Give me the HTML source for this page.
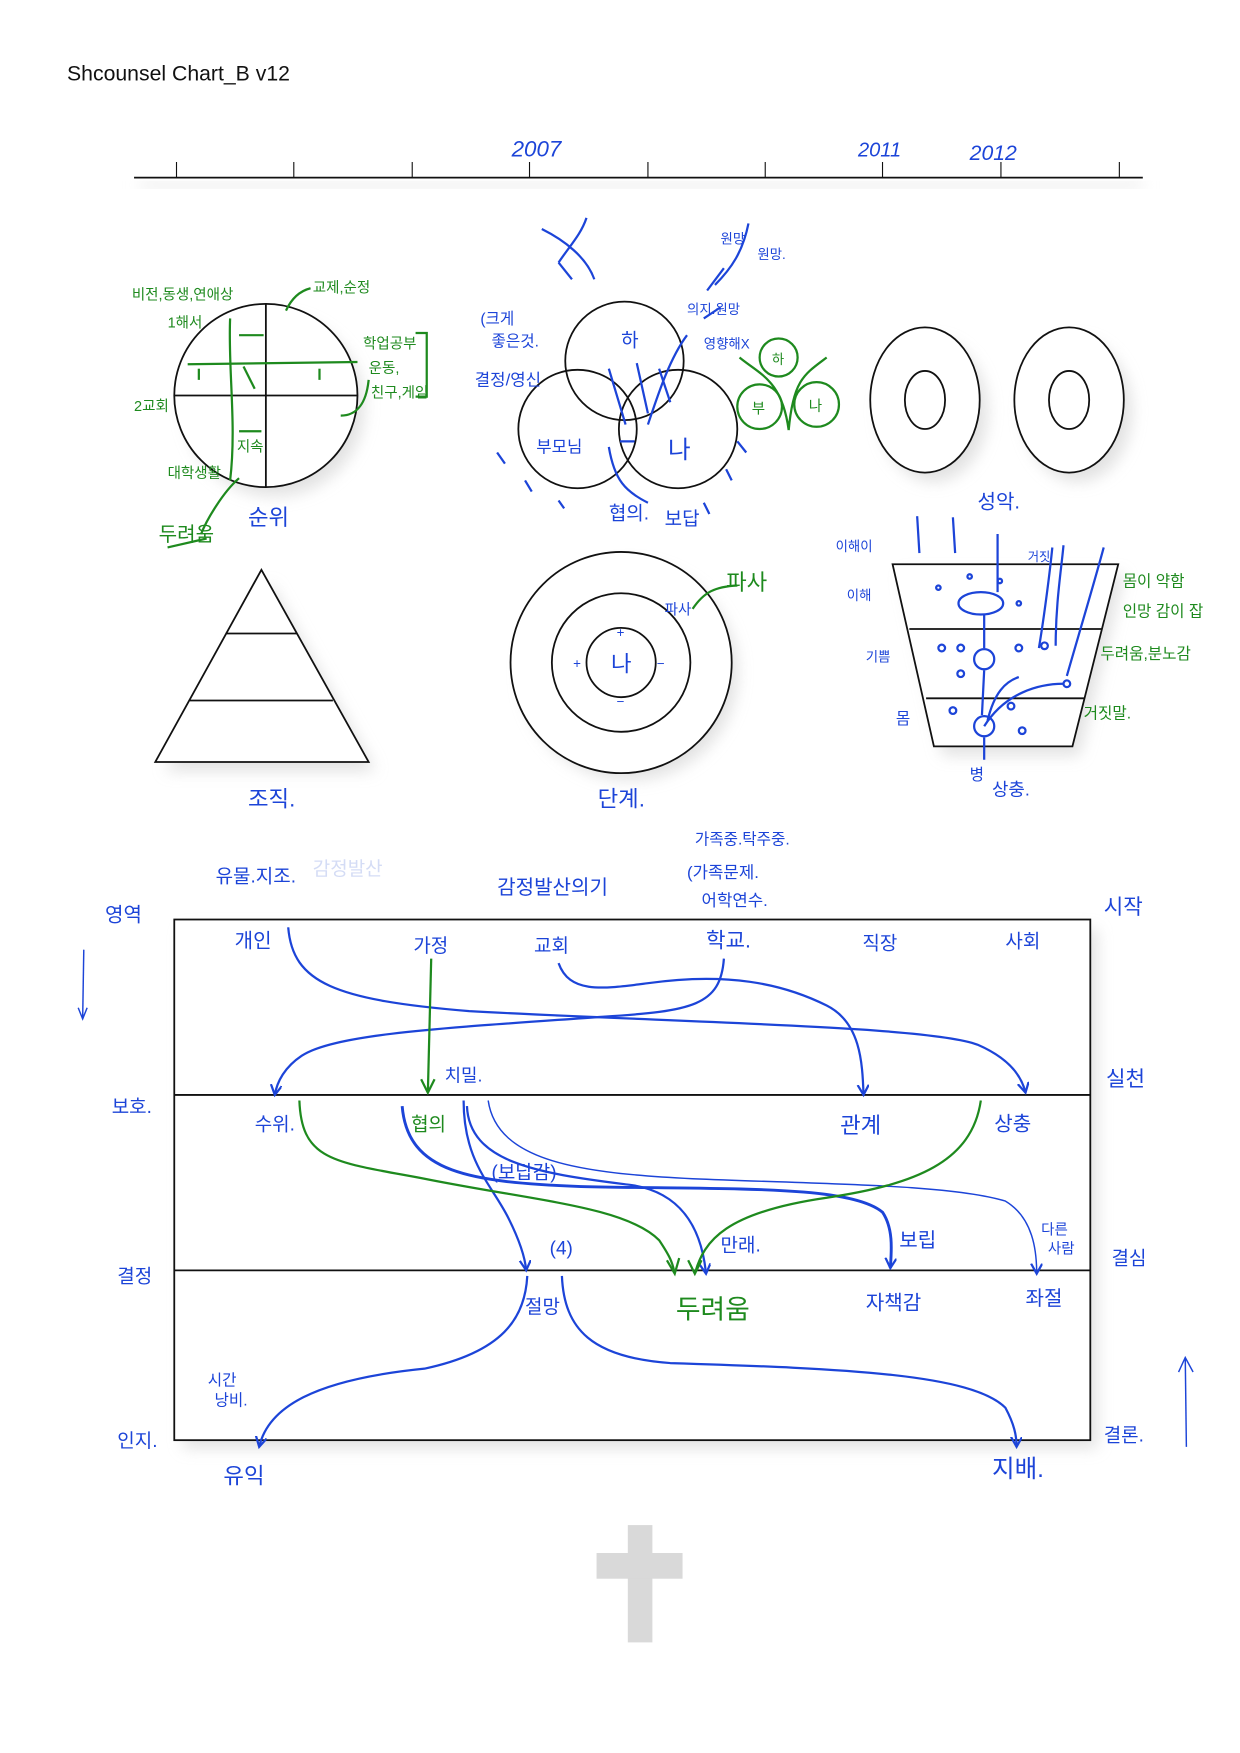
<!DOCTYPE html>
<html><head><meta charset="utf-8">
<style>
html,body{margin:0;padding:0;background:#fff;}
svg{display:block;}
text{font-family:"Liberation Sans","Noto Sans CJK KR",sans-serif;}
.b{fill:#1c44d8;}
.g{fill:#1e8a1e;}
.bl{stroke:#1c44d8;fill:none;stroke-width:2;}
.gl{stroke:#1e8a1e;fill:none;stroke-width:2;}
.k{stroke:#111;fill:none;stroke-width:1.6;}
.w{stroke:#111;fill:#fff;stroke-width:1.6;}
</style></head>
<body>
<svg width="1240" height="1753" viewBox="0 0 1110 1569" preserveAspectRatio="none" xmlns="http://www.w3.org/2000/svg">
<defs>
<filter id="sh" x="-20%" y="-20%" width="140%" height="140%"><feGaussianBlur stdDeviation="7"/></filter>
<marker id="ab" markerWidth="12" markerHeight="12" refX="9" refY="5" orient="auto" markerUnits="userSpaceOnUse"><path d="M0,0 L9,5 L0,10" fill="none" stroke="#1c44d8" stroke-width="2"/></marker>
</defs>
<text x="60" y="72" font-size="19" fill="#111">Shcounsel Chart_B v12</text>
<!-- timeline -->
<rect x="125" y="163" width="898" height="5" fill="#e4e4e4" filter="url(#sh)"/>
<line x1="120" y1="159" x2="1023" y2="159" stroke="#111" stroke-width="1.5"/>
<g stroke="#111" stroke-width="1">
<line x1="158" y1="145" x2="158" y2="159"/><line x1="263" y1="145" x2="263" y2="159"/><line x1="369" y1="145" x2="369" y2="159"/><line x1="474" y1="145" x2="474" y2="159"/><line x1="580" y1="145" x2="580" y2="159"/><line x1="685" y1="145" x2="685" y2="159"/><line x1="790" y1="145" x2="790" y2="159"/><line x1="896" y1="145" x2="896" y2="159"/><line x1="1002" y1="145" x2="1002" y2="159"/>
</g>
<text x="458" y="140" font-size="20" class="b" font-style="italic">2007</text>
<text x="768" y="140" font-size="18" class="b" font-style="italic">2011</text>
<text x="868" y="143" font-size="19" class="b" font-style="italic">2012</text>

<!-- shadows -->
<g fill="#d8d8d8" filter="url(#sh)" opacity="0.75">
<circle cx="246" cy="364" r="80"/>
<ellipse cx="836" cy="368" rx="48" ry="63"/><ellipse cx="965" cy="368" rx="48" ry="63"/>
<circle cx="564" cy="602" r="96"/>
<polygon points="242,522 336,690 148,690"/>
<polygon points="808,514 1006,514 966,676 844,676"/>
<rect x="164" y="832" width="818" height="464"/>
</g>

<!-- circle 1 -->
<circle cx="238" cy="354" r="82" class="w"/>
<line x1="238" y1="272" x2="238" y2="436" class="k"/>
<line x1="156" y1="354" x2="320" y2="354" class="k"/>
<g class="gl">
<path d="M168,326 L320,324"/><path d="M206,285 C204,330 212,380 206,430"/>
<path d="M236,300 L214,300"/><path d="M178,340 L178,330"/><path d="M286,340 L286,330"/><path d="M228,348 L218,328"/>
<path d="M234,386 L214,386"/><path d="M214,428 C200,440 185,465 180,478"/>
<path d="M256,278 C262,265 270,260 278,258"/><path d="M330,340 C328,360 320,372 305,372"/>
<path d="M372,298 L382,298 L382,355 L372,355"/><path d="M150,490 L185,482"/>
</g>
<text x="118" y="268" font-size="13" class="g">비전,동생,연애상</text>
<text x="280" y="262" font-size="13" class="g">교제,순정</text>
<text x="150" y="293" font-size="13" class="g">1해서</text>
<text x="325" y="312" font-size="13" class="g">학업공부</text>
<text x="330" y="334" font-size="13" class="g">운동,</text>
<text x="332" y="356" font-size="13" class="g">친구,게임</text>
<text x="120" y="368" font-size="13" class="g">2교회</text>
<text x="150" y="428" font-size="13" class="g">대학생활</text>
<text x="212" y="404" font-size="13" class="g">지속</text>
<text x="142" y="484" font-size="18" class="g">두려움</text>
<text x="222" y="470" font-size="20" class="b">순위</text>

<!-- triangle -->
<polygon points="234,510 330,682 139,682" class="w"/>
<line x1="202" y1="567" x2="266" y2="567" class="k"/>
<line x1="170" y1="627" x2="298" y2="627" class="k"/>
<text x="222" y="722" font-size="20" class="b">조직.</text>

<!-- venn -->
<g class="k">
<circle cx="559" cy="323" r="53"/><circle cx="517" cy="384" r="53"/><circle cx="607" cy="384" r="53"/>
</g>
<g class="bl">
<path d="M500,235 C510,220 520,210 525,195 M485,205 C505,215 525,230 532,250 M500,235 L512,250"/>
<path d="M640,255 C655,240 665,225 670,200 M633,260 L648,240"/>
<path d="M545,330 L560,380 M570,325 L580,370 M590,330 L600,360 M555,395 L568,395"/>
<path d="M615,300 C600,320 590,350 580,380 M645,275 L630,285"/>
<path d="M445,405 L452,415 M470,430 L476,440 M500,448 L505,455 M660,395 L668,405 M650,420 L655,430 M630,450 L635,460"/>
<path d="M545,400 C550,430 560,440 580,450"/>
</g>
<text x="556" y="310" font-size="17" class="b">하</text>
<text x="480" y="405" font-size="15" class="b">부모님</text>
<text x="598" y="410" font-size="22" class="b">나</text>
<text x="430" y="290" font-size="14" class="b">(크게</text>
<text x="440" y="310" font-size="14" class="b">좋은것.</text>
<text x="425" y="345" font-size="15" class="b">결정/영신</text>
<text x="615" y="281" font-size="12" class="b">의지.원망</text>
<text x="630" y="312" font-size="12" class="b">영향해X</text>
<text x="645" y="218" font-size="12" class="b">원망</text>
<text x="678" y="232" font-size="12" class="b">원망.</text>
<text x="545" y="465" font-size="17" class="b">협의.</text>
<text x="595" y="470" font-size="17" class="b">보답</text>
<g class="gl"><circle cx="697" cy="320" r="17"/><circle cx="680" cy="364" r="20"/><circle cx="731" cy="362" r="20"/>
<path d="M662,320 C680,335 700,340 706,385 M740,320 C720,335 710,340 706,385"/></g>
<text x="691" y="326" font-size="12" class="g">하</text><text x="673" y="370" font-size="13" class="g">부</text><text x="724" y="368" font-size="13" class="g">나</text>

<!-- two donuts -->
<ellipse cx="828" cy="358" rx="49" ry="65" class="w"/><ellipse cx="828" cy="358" rx="18" ry="26" class="k"/>
<ellipse cx="957" cy="358" rx="49" ry="65" class="w"/><ellipse cx="957" cy="358" rx="18" ry="26" class="k"/>

<!-- concentric -->
<circle cx="556" cy="593" r="99" class="w"/><circle cx="556" cy="593" r="62" class="k"/><circle cx="556" cy="593" r="31" class="k"/>
<text x="547" y="601" font-size="20" class="b">나</text>
<text x="513" y="598" font-size="12" class="b">+</text><text x="552" y="570" font-size="12" class="b">+</text>
<text x="588" y="598" font-size="12" class="b">−</text><text x="552" y="632" font-size="12" class="b">−</text>
<path d="M620,545 C630,530 640,525 660,524" class="gl"/>
<text x="595" y="550" font-size="13" class="b">파사</text>
<text x="650" y="528" font-size="20" class="g">파사</text>
<text x="535" y="722" font-size="20" class="b">단계.</text>

<!-- trapezoid -->
<polygon points="799,505 1001,505 960,668 836,668" class="w"/>
<line x1="814" y1="563" x2="986" y2="563" class="k"/>
<line x1="829" y1="625" x2="971" y2="625" class="k"/>
<g class="bl" stroke-width="1.5">
<circle cx="840" cy="526" r="2"/><circle cx="868" cy="516" r="2"/><circle cx="881" cy="590" r="9"/><circle cx="881" cy="650" r="9"/>
<ellipse cx="878" cy="540" rx="20" ry="10"/>
<circle cx="843" cy="580" r="3"/><circle cx="860" cy="580" r="3"/><circle cx="912" cy="580" r="3"/><circle cx="935" cy="578" r="3"/><circle cx="955" cy="612" r="3"/>
<circle cx="860" cy="603" r="3"/><circle cx="853" cy="636" r="3"/><circle cx="915" cy="654" r="3"/><circle cx="905" cy="632" r="3"/><circle cx="895" cy="520" r="2"/><circle cx="912" cy="540" r="2"/>
<path d="M893,478 L893,530 M853,463 L855,495 M821,462 L823,495 M881,550 L881,580 M881,600 L879,640 M881,660 L881,680"/>
<path d="M881,650 C900,620 930,612 952,612 M884,645 C890,620 900,610 912,606 M945,578 C945,540 950,510 952,488 M930,580 C935,550 940,510 942,490 M955,605 C965,570 980,520 988,490"/>
</g>
<text x="748" y="493" font-size="12" class="b">이해이</text>
<text x="758" y="537" font-size="12" class="b">이해</text>
<text x="775" y="592" font-size="12" class="b">기쁨</text>
<text x="802" y="648" font-size="14" class="b">몸</text>
<text x="875" y="455" font-size="18" class="b">성악.</text>
<text x="920" y="502" font-size="11" class="b">거짓</text>
<text x="1005" y="525" font-size="14" class="g">몸이 약함</text>
<text x="1005" y="552" font-size="14" class="g">인망 감이 잡</text>
<text x="985" y="590" font-size="14" class="g">두려움,분노감</text>
<text x="970" y="643" font-size="14" class="g">거짓말.</text>
<text x="868" y="698" font-size="14" class="b">병</text><text x="888" y="712" font-size="16" class="b">상충.</text>

<!-- bottom chart -->
<rect x="156" y="823" width="820" height="466" class="w"/>
<line x1="156" y1="980" x2="976" y2="980" class="k"/>
<line x1="156" y1="1137" x2="976" y2="1137" class="k"/>
<g class="bl">
<path d="M258,830 C262,880 300,895 420,905 C600,915 830,918 875,935 C905,948 915,965 918,978" marker-end="url(#ab)"/>
<path d="M648,858 C645,900 620,905 540,910 C400,920 300,925 270,945 C255,955 248,968 246,980" marker-end="url(#ab)"/>
<path d="M500,862 C510,890 540,885 580,880 C650,870 700,880 740,900 C770,915 772,950 773,980" marker-end="url(#ab)"/>
<path d="M415,985 C415,1040 440,1060 455,1090 C465,1110 470,1125 471,1137" marker-end="url(#ab)"/>
<path d="M360,990 C365,1050 420,1058 520,1062 C650,1065 760,1060 790,1085 C800,1100 798,1120 797,1135" marker-end="url(#ab)" stroke-width="2.6"/>
<path d="M418,990 C420,1040 480,1050 560,1060 C610,1065 628,1100 632,1140" marker-end="url(#ab)"/>
<path d="M437,985 C445,1040 520,1050 620,1055 C740,1060 850,1060 900,1075 C925,1090 928,1120 928,1140" marker-end="url(#ab)" stroke-width="1.3"/>
<path d="M472,1142 C470,1180 450,1210 380,1225 C280,1235 240,1260 232,1295" marker-end="url(#ab)"/>
<path d="M503,1142 C505,1190 530,1215 600,1220 C760,1225 870,1230 900,1260 C908,1275 910,1285 910,1295" marker-end="url(#ab)"/>
<path d="M75,850 L74,912" stroke-width="1.3"/><path d="M70,902 L74,912 L78,902" stroke-width="1.3"/>
<path d="M1062,1295 L1061,1215" stroke-width="1.3"/><path d="M1055,1228 L1061,1215 L1068,1228" stroke-width="1.3"/>
</g>
<g class="gl">
<path d="M386,858 L383,978"/><path d="M377,966 L383,978 L389,966"/>
<path d="M268,985 C270,1040 300,1040 380,1055 C480,1075 560,1080 590,1110 C600,1125 602,1130 604,1140"/><path d="M597,1128 L604,1140 L608,1126"/>
<path d="M878,985 C870,1040 820,1060 740,1072 C650,1085 630,1110 622,1140"/><path d="M616,1128 L622,1140 L628,1128"/>
</g>
<text x="210" y="848" font-size="18" class="b">개인</text>
<text x="370" y="852" font-size="17" class="b">가정</text>
<text x="478" y="852" font-size="17" class="b">교회</text>
<text x="632" y="848" font-size="19" class="b">학교.</text>
<text x="772" y="850" font-size="17" class="b">직장</text>
<text x="900" y="848" font-size="17" class="b">사회</text>
<text x="228" y="1012" font-size="17" class="b">수위.</text>
<text x="368" y="1012" font-size="17" class="g">협의</text>
<text x="398" y="968" font-size="16" class="b">치밀.</text>
<text x="752" y="1014" font-size="20" class="b">관계</text>
<text x="890" y="1012" font-size="18" class="b">상충</text>
<text x="440" y="1055" font-size="17" class="b">(보답감)</text>
<text x="492" y="1123" font-size="17" class="b">(4)</text>
<text x="645" y="1120" font-size="17" class="b">만래.</text>
<text x="805" y="1116" font-size="18" class="b">보립</text>
<text x="932" y="1105" font-size="13" class="b">다른</text><text x="938" y="1122" font-size="13" class="b">사람</text>
<text x="470" y="1175" font-size="17" class="b">절망</text>
<text x="605" y="1180" font-size="24" class="g">두려움</text>
<text x="775" y="1172" font-size="18" class="b">자책감</text>
<text x="918" y="1168" font-size="18" class="b">좌절</text>
<text x="186" y="1240" font-size="14" class="b">시간</text><text x="192" y="1258" font-size="14" class="b">낭비.</text>
<text x="200" y="1328" font-size="20" class="b">유익</text>
<text x="888" y="1322" font-size="22" class="b">지배.</text>
<text x="94" y="825" font-size="18" class="b">영역</text>
<text x="100" y="996" font-size="17" class="b">보호.</text>
<text x="105" y="1148" font-size="17" class="b">결정</text>
<text x="105" y="1295" font-size="17" class="b">인지.</text>
<text x="988" y="818" font-size="19" class="b">시작</text>
<text x="990" y="972" font-size="19" class="b">실천</text>
<text x="995" y="1132" font-size="17" class="b">결심</text>
<text x="988" y="1290" font-size="17" class="b">결론.</text>
<text x="193" y="790" font-size="17" class="b">유물.지조.</text>
<text x="280" y="783" font-size="17" fill="#d4dcf5">감정발산</text>
<text x="445" y="800" font-size="18" class="b">감정발산의기</text>
<text x="622" y="756" font-size="14" class="b">가족중.탁주중.</text>
<text x="615" y="786" font-size="15" class="b">(가족문제.</text>
<text x="628" y="811" font-size="15" class="b">어학연수.</text>

<!-- cross -->
<rect x="562" y="1365" width="22" height="105" fill="#d9d9d9"/>
<rect x="534" y="1390" width="77" height="23" fill="#d9d9d9"/>
</svg>
</body></html>
